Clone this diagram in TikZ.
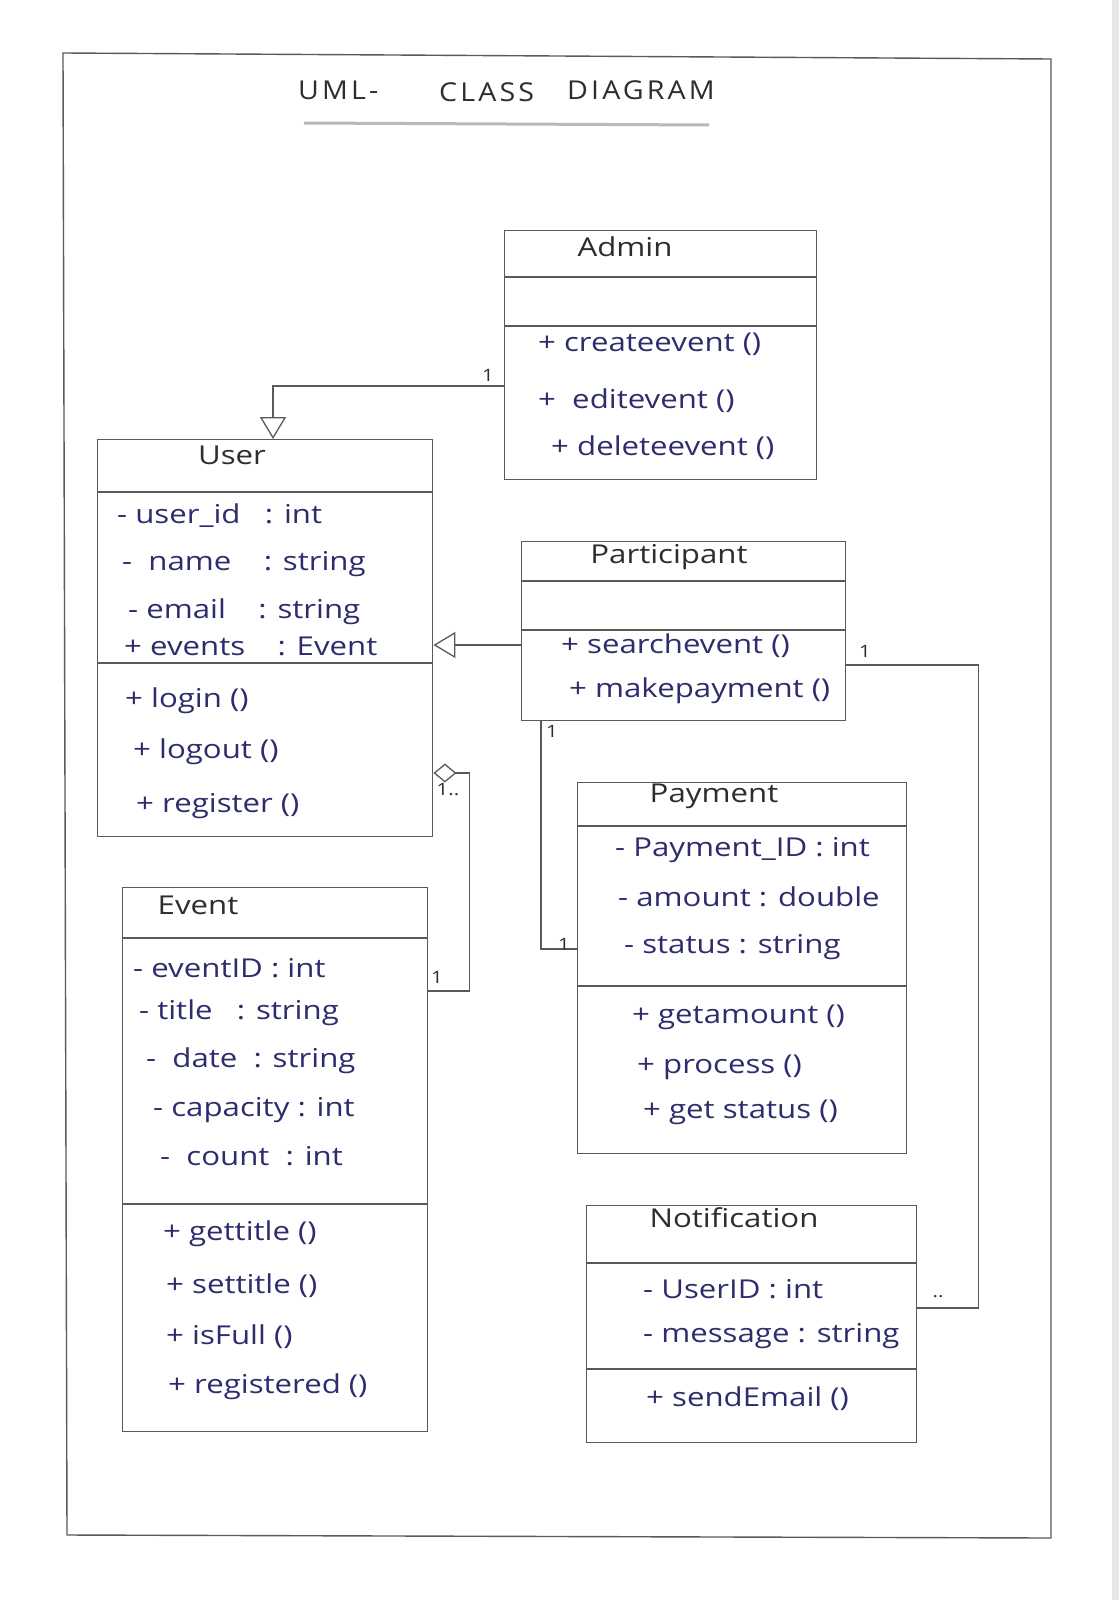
\documentclass[tikz,border=0pt]{standalone}
\usepackage{fontspec}
\setmainfont{Open Sans}[FakeStretch=1.2]
\newfontfamily\titlefont{Open Sans}[FakeStretch=1.1,LetterSpace=12]
\usetikzlibrary{arrows.meta,calc}
\definecolor{ink}{RGB}{45,45,110}
\definecolor{pencil}{RGB}{45,45,45}
\definecolor{boxline}{RGB}{90,90,90}
\tikzset{
  classbox/.style={draw=boxline, line width=1.4pt, rectangle, inner sep=0pt, anchor=north west},
  divider/.style={draw=boxline, line width=1.3pt},
  cname/.style={text=pencil, font=\fontsize{26}{30}\selectfont, inner sep=0pt, text height=19pt, text depth=6pt},
  member/.style={text=ink, font=\fontsize{26}{30}\selectfont, inner sep=0pt, anchor=west, text height=19pt, text depth=6pt},
  mult/.style={text=pencil, font=\fontsize{17}{20}\selectfont, inner sep=0pt},
  conn/.style={draw=boxline, line width=1.3pt},
  gen/.style={-{Triangle[open,length=22pt,width=26pt,line width=1.3pt]}},
  agg/.style={{Diamond[open,length=23pt,width=19pt,line width=1.3pt]}-},
  ttl/.style={text=pencil, font=\titlefont\fontsize{26}{30}\selectfont, inner sep=0pt, anchor=west}
}
\begin{document}
\begin{tikzpicture}[x=1pt,y=-1pt]
\useasboundingbox (0,0) rectangle (1119,1600);
\fill[white] (0,0) rectangle (1119,1600);
\fill[gray!18] (1112,0) rectangle (1119,1600);
% page frame
\draw[boxline, line width=1.4pt] (63,53) -- (1051,59) -- (1051,1538) -- (67,1535) -- cycle;
% title
\node[ttl] (t1) at (298,90) {UML-};
\node[ttl] (t2) at (439,92) {CLASS};
\node[ttl] (t3) at (567,90) {DIAGRAM};
\draw[gray!55, line width=3pt] (304,123) -- (709,125);

% ---------- Admin ----------
\node[classbox, minimum width=312pt, minimum height=249pt] (admin) at (504,230) {};
\draw[divider] (504,277) -- (816,277);
\draw[divider] (504,326) -- (816,326);
\node[cname] (adminT) at (625,250) {Admin};
\node[member] (a1) at (538,345) {+ createevent ()};
\node[member] (a2) at (538,402) {+ \ editevent ()};
\node[member] (a3) at (551,449) {+ deleteevent ()};

% ---------- User ----------
\node[classbox, minimum width=335pt, minimum height=397pt] (user) at (97,439) {};
\draw[divider] (97,492) -- (432,492);
\draw[divider] (97,663) -- (432,663);
\node[cname] (userT) at (232,458) {User};
\node[member] (u1) at (117,517) {- user\_id \ \ : int};
\node[member] (u2) at (122,564) {- \ name \ \ \ : string};
\node[member] (u3) at (128,612) {- email \ \ \ : string};
\node[member] (u4) at (124,649) {+ events \ \ \ : Event};
\node[member] (u5) at (125,701) {+ login ()};
\node[member] (u6) at (133,752) {+ logout ()};
\node[member] (u7) at (136,806) {+ register ()};

% ---------- Participant ----------
\node[classbox, minimum width=324pt, minimum height=179pt] (participant) at (521,541) {};
\draw[divider] (521,581) -- (845,581);
\draw[divider] (521,630) -- (845,630);
\node[cname] (partT) at (669,557) {Participant};
\node[member] (p1) at (561,647) {+ searchevent ()};
\node[member] (p2) at (569,691) {+ makepayment ()};

% ---------- Payment ----------
\node[classbox, minimum width=329pt, minimum height=371pt] (payment) at (577,782) {};
\draw[divider] (577,826) -- (906,826);
\draw[divider] (577,986) -- (906,986);
\node[cname] (payT) at (714,796) {Payment};
\node[member] (y1) at (615,850) {- Payment\_ID : int};
\node[member] (y2) at (618,900) {- amount : double};
\node[member] (y3) at (624,947) {- status : string};
\node[member] (y4) at (632,1017) {+ getamount ()};
\node[member] (y5) at (637,1067) {+ process ()};
\node[member] (y6) at (643,1112) {+ get status ()};

% ---------- Event ----------
\node[classbox, minimum width=305pt, minimum height=544pt] (event) at (122,887) {};
\draw[divider] (122,938) -- (427,938);
\draw[divider] (122,1204) -- (427,1204);
\node[cname] (eventT) at (198,908) {Event};
\node[member] (e1) at (133,971) {- eventID : int};
\node[member] (e2) at (139,1013) {- title \ \ : string};
\node[member] (e3) at (146,1061) {- \ date \ : string};
\node[member] (e4) at (153,1110) {- capacity : int};
\node[member] (e5) at (160,1159) {- \ count \ : int};
\node[member] (e6) at (163,1234) {+ gettitle ()};
\node[member] (e7) at (166,1287) {+ settitle ()};
\node[member] (e8) at (166,1338) {+ isFull ()};
\node[member] (e9) at (168,1387) {+ registered ()};

% ---------- Notification ----------
\node[classbox, minimum width=330pt, minimum height=237pt] (notification) at (586,1205) {};
\draw[divider] (586,1263) -- (916,1263);
\draw[divider] (586,1369) -- (916,1369);
\node[cname] (notT) at (734,1221) {Notification};
\node[member] (n1) at (643,1292) {- UserID : int};
\node[member] (n2) at (643,1336) {- message : string};
\node[member] (n3) at (646,1400) {+ sendEmail ()};

% ---------- connectors ----------
\draw[conn, gen] ($(admin.north west)+(0,156)$) -| ($(user.north west)+(176,0)$);
\draw[conn, gen] ($(participant.north west)+(0,104)$) -- ($(user.north east)+(0,206)$);
\draw[conn] ($(participant.south west)+(20,0)$) |- ($(payment.north west)+(0,167)$);
\draw[conn] ($(participant.north east)+(0,124)$) -- ++(132,0) |- ($(notification.north east)+(0,103)$);
\draw[conn, agg] ($(user.north east)+(0,334)$) -- ++(36,0) |- ($(event.north east)+(0,104)$);

% multiplicities
\node[mult] (m1) at (488,375) {1};
\node[mult] (m2) at (865,651) {1};
\node[mult] (m3) at (938,1297) {..};
\node[mult] (m4) at (552,731) {1};
\node[mult] (m5) at (564,944) {1};
\node[mult] (m6) at (448,790) {1..};
\node[mult] (m7) at (437,977) {1};
\end{tikzpicture}
\end{document}
